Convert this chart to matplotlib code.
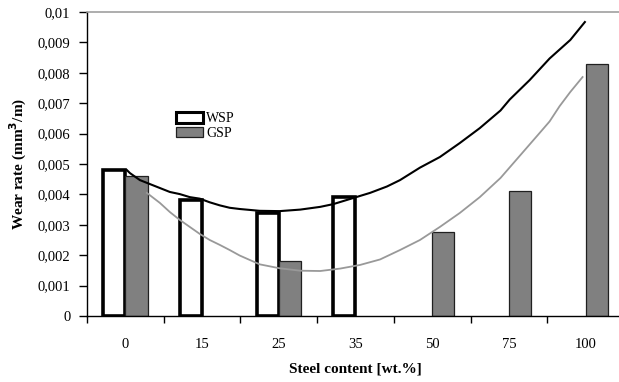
import matplotlib
matplotlib.use("Agg")
import matplotlib.pyplot as plt
from matplotlib.patches import Patch
import numpy as np

# steel content categories
categories = ["0", "15", "25", "35", "50", "75", "100"]

# wear rate (mm3/m), None where no bar
wsp_values = [0.0048, 0.0038, 0.0034, 0.0039, None, None, None]
gsp_values = [0.0046, None, 0.0018, None, 0.00275, 0.0041, 0.0083]

# trend lines (x in category index units)
wsp_trend_x = [0.02, 0.06, 0.19, 0.32, 0.45, 0.58, 0.71, 0.84, 0.97, 1.10, 1.23,
               1.36, 1.49, 1.75, 2.01, 2.28, 2.54, 2.71, 2.93, 3.19, 3.41, 3.58,
               3.84, 4.10, 4.36, 4.62, 4.89, 5.01, 5.27, 5.53, 5.80, 5.99]
wsp_trend_y = [0.00480, 0.00470, 0.00447, 0.00434, 0.00421, 0.00408, 0.00401,
               0.00391, 0.00386, 0.00374, 0.00364, 0.00356, 0.00352, 0.00346,
               0.00345, 0.00350, 0.00359, 0.00368, 0.00385, 0.00405, 0.00426,
               0.00447, 0.00488, 0.00523, 0.00569, 0.00618, 0.00676, 0.00712,
               0.00776, 0.00847, 0.00908, 0.00967]
gsp_trend_x = [0.28, 0.45, 0.58, 0.71, 0.84, 0.97, 1.10, 1.23, 1.36, 1.49, 1.75,
               2.01, 2.28, 2.54, 2.80, 3.06, 3.32, 3.58, 3.84, 4.10, 4.36, 4.62,
               4.89, 5.40, 5.53, 5.66, 5.80, 5.96]
gsp_trend_y = [0.00405, 0.00372, 0.00342, 0.00316, 0.00293, 0.00270, 0.00250,
               0.00234, 0.00217, 0.00199, 0.00170, 0.00157, 0.00149, 0.00148,
               0.00156, 0.00168, 0.00186, 0.00217, 0.00250, 0.00293, 0.00339,
               0.00391, 0.00454, 0.00602, 0.00640, 0.00690, 0.00737, 0.00786]

y_ticks = [0, 0.001, 0.002, 0.003, 0.004, 0.005, 0.006, 0.007, 0.008, 0.009, 0.01]
y_tick_labels = ["0", "0,001", "0,002", "0,003", "0,004", "0,005",
                 "0,006", "0,007", "0,008", "0,009", "0,01"]

SERIF = "Liberation Serif"
BAR_W = 0.29

fig = plt.figure(figsize=(6.19, 3.82), dpi=100)
ax = fig.add_axes([87 / 619, 1 - 316 / 382, 537 / 619, 304 / 382])

idx = np.arange(len(categories))
for i, v in enumerate(wsp_values):
    if v is not None:
        ax.bar(idx[i] - BAR_W / 2, v, BAR_W, facecolor="white",
               edgecolor="black", linewidth=2.6, zorder=2)
for i, v in enumerate(gsp_values):
    if v is not None:
        ax.bar(idx[i] + BAR_W / 2, v, BAR_W, facecolor="#808080",
               edgecolor="#202020", linewidth=0.9, zorder=2)

ax.plot(gsp_trend_x, gsp_trend_y, color="#999999", linewidth=1.3, zorder=3)
ax.plot(wsp_trend_x, wsp_trend_y, color="black", linewidth=1.5, zorder=3)

ax.set_xlim(-0.5, len(categories) - 0.5)
ax.set_ylim(0, 0.01)

ax.set_yticks(y_ticks)
ax.set_yticklabels(y_tick_labels, fontfamily=SERIF, fontsize=10.5)
ax.set_xticks(idx)
ax.set_xticklabels(categories, fontfamily=SERIF, fontsize=10.5)
ax.set_xticks(np.arange(len(categories) + 1) - 0.5, minor=True)
ax.tick_params(axis="x", which="major", length=0, pad=16)
ax.tick_params(axis="x", which="minor", length=5, width=1, direction="out")
ax.tick_params(axis="y", length=6, width=1, direction="out", pad=6)

ax.spines["right"].set_visible(False)
ax.spines["top"].set_color("#a0a0a0")
ax.spines["top"].set_linewidth(1.2)
for s in ("left", "bottom"):
    ax.spines[s].set_color("black")
    ax.spines[s].set_linewidth(1)

ax.set_xlabel("Steel content [wt.%]", fontfamily=SERIF, fontsize=11,
              fontweight="bold", labelpad=8)
ax.set_ylabel("Wear rate (mm$^{\\mathbf{3}}$/m)", fontfamily=SERIF, fontsize=11,
              fontweight="bold", labelpad=6)

handles = [Patch(facecolor="white", edgecolor="black", linewidth=2.2, label="WSP"),
           Patch(facecolor="#808080", edgecolor="#202020", linewidth=0.9, label="GSP")]
ax.legend(handles=handles, loc="upper left", bbox_to_anchor=(0.165, 0.67),
          frameon=False, prop={"family": SERIF, "size": 10},
          handlelength=2.0, handleheight=0.8, handletextpad=0.2,
          labelspacing=0.1, borderaxespad=0, borderpad=0)

fig.savefig("out.png", dpi=100)
